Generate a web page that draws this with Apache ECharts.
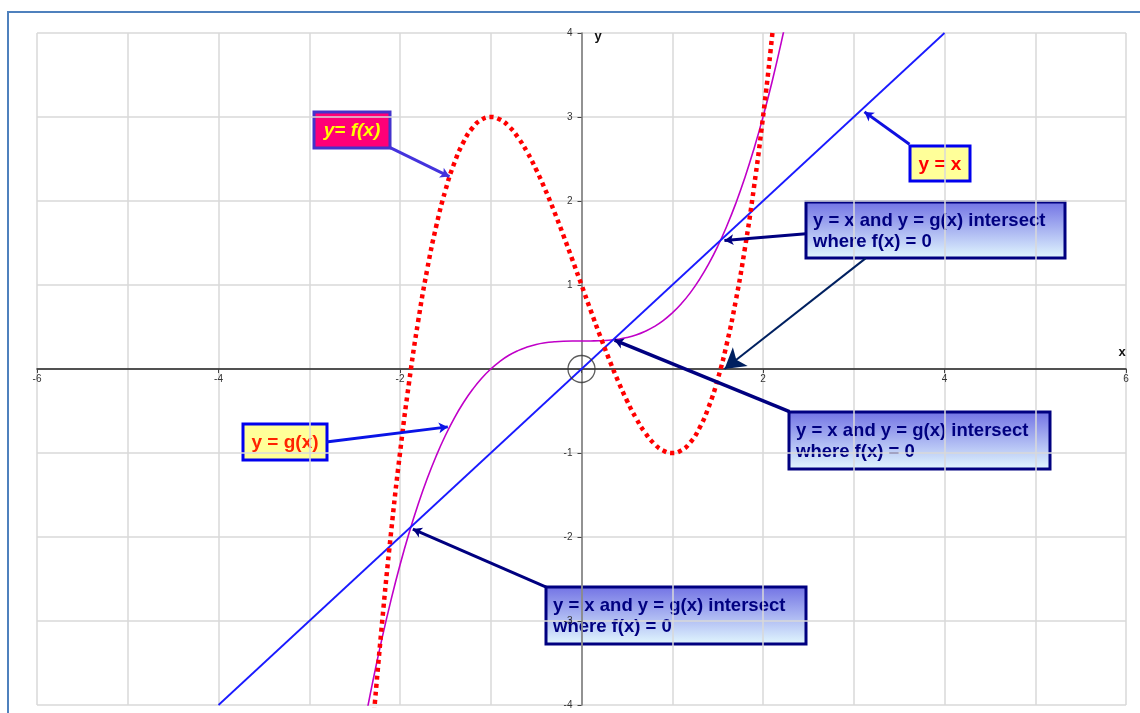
<!DOCTYPE html>
<html>
<head>
<meta charset="utf-8">
<title>y = f(x), y = g(x), y = x</title>
<script src="https://cdn.jsdelivr.net/npm/echarts@6/dist/echarts.min.js"></script>
<style>
  html, body { margin: 0; padding: 0; background: #fff; }
  #chart { width: 1140px; height: 713px; }
</style>
</head>
<body>
<div id="chart"></div>
<script>
// f(x)
const xF = [-2.3, -2.2, -2.1, -2.0, -1.9, -1.8, -1.7, -1.6, -1.5, -1.4, -1.3, -1.2, -1.1, -1.0,
  -0.9, -0.8, -0.7, -0.6, -0.5, -0.4, -0.3, -0.2, -0.1, 0, 0.1, 0.2, 0.3, 0.4, 0.5, 0.6, 0.7,
  0.8, 0.9, 1.0, 1.1, 1.2, 1.3, 1.4, 1.5, 1.6, 1.7, 1.8, 1.9, 2.0, 2.1, 2.2];
const yF = [-4.267, -3.048, -1.961, -1, -0.159, 0.568, 1.187, 1.704, 2.125, 2.456, 2.703, 2.872, 2.969, 3,
  2.971, 2.888, 2.757, 2.584, 2.375, 2.136, 1.873, 1.592, 1.299, 1, 0.701, 0.408, 0.127, -0.136, -0.375, -0.584, -0.757,
  -0.888, -0.971, -1, -0.969, -0.872, -0.703, -0.456, -0.125, 0.296, 0.813, 1.432, 2.159, 3, 3.961, 5.048];

// g(x)
const xG = [-2.4, -2.3, -2.2, -2.1, -2.0, -1.9, -1.8, -1.7, -1.6, -1.5, -1.4, -1.3, -1.2, -1.1, -1.0,
  -0.9, -0.8, -0.7, -0.6, -0.5, -0.4, -0.3, -0.2, -0.1, 0, 0.1, 0.2, 0.3, 0.4, 0.5, 0.6, 0.7, 0.8, 0.9,
  1.0, 1.1, 1.2, 1.3, 1.4, 1.5, 1.6, 1.7, 1.8, 1.9, 2.0, 2.1, 2.2, 2.3];
const yG = [-4.275, -3.722, -3.216, -2.754, -2.333, -1.953, -1.611, -1.304, -1.032, -0.792, -0.581, -0.399, -0.243, -0.110, 0,
  0.090, 0.163, 0.219, 0.261, 0.292, 0.312, 0.324, 0.331, 0.333, 0.333, 0.334, 0.336, 0.342, 0.355, 0.375, 0.405, 0.448, 0.504, 0.576,
  0.667, 0.777, 0.909, 1.066, 1.248, 1.458, 1.699, 1.971, 2.277, 2.620, 3, 3.420, 3.883, 4.389];

// y = x
const xLine = [-4, 4];
const yLine = [-4, 4];

// origin marker
const originPoint = [0, 0];

// tick labels
const xLabelValues = [-6, -4, -2, 2, 4, 6];
const yLabelValues = [-4, -3, -2, -1, 1, 2, 3, 4];

const zip = (xs, ys) => xs.map((x, i) => [x, ys[i]]);

// callout arrows, in data coordinates: [from, to]
const arrows = [
  { from: [-2.108, 2.636], to: [-1.455, 2.291], color: '#4433dd', width: 3, head: 9 },   // y= f(x)
  { from: [3.614, 2.676], to: [3.118, 3.061], color: '#1010e0', width: 3, head: 9 },     // y = x
  { from: [-2.813, -0.868], to: [-1.473, -0.689], color: '#0a14e6', width: 3, head: 9 }, // y = g(x)
  { from: [2.474, 1.61], to: [1.575, 1.53], color: '#000080', width: 3, head: 9 },
  { from: [3.13, 1.317], to: [1.576, 0.0], color: '#002060', width: 2, head: 20 },
  { from: [2.292, -0.507], to: [0.364, 0.343], color: '#000080', width: 3.5, head: 9 },
  { from: [-0.389, -2.596], to: [-1.859, -1.905], color: '#000080', width: 3, head: 9 },
];

const W = 1140;
const H = 713;
const gridBox = { left: 37, right: 14, top: 33, bottom: 8 };

const myChart = echarts.init(document.getElementById('chart'));

const gridLine = { lineStyle: { color: '#d9d9d9', width: 1.5 } };
const font = '"Liberation Sans", Arial, sans-serif';

// yellow / pink label box
function plainBox(x, y, w, h, text, fill, stroke, color, italic) {
  return {
    type: 'group',
    z: 100,
    children: [
      {
        type: 'rect',
        shape: { x: x, y: y, width: w, height: h },
        style: { fill: fill, stroke: stroke, lineWidth: 3 },
      },
      {
        type: 'text',
        style: {
          text: text,
          x: x + w / 2,
          y: y + h / 2 + 1,
          align: 'center',
          verticalAlign: 'middle',
          fill: color,
          font: (italic ? 'italic ' : '') + 'bold 19px ' + font,
        },
      },
    ],
  };
}

// blue gradient box
function blueBox(x, y, w, h) {
  return {
    type: 'group',
    z: 100,
    children: [
      {
        type: 'rect',
        shape: { x: x, y: y, width: w, height: h },
        style: {
          fill: new echarts.graphic.LinearGradient(0, 0, 0, 1, [
            { offset: 0, color: '#7070e4' },
            { offset: 1, color: '#e4faff' },
          ]),
          stroke: '#000080',
          lineWidth: 3,
        },
      },
      {
        type: 'text',
        style: {
          text: 'y = x and y = g(x) intersect\nwhere f(x) = 0',
          x: x + 7,
          y: y + h / 2 + 1,
          align: 'left',
          verticalAlign: 'middle',
          lineHeight: 21,
          fill: '#000080',
          font: 'bold 18.5px ' + font,
        },
      },
    ],
  };
}

// axes sit on the zero lines: shift them half the grid inwards
const plotW = W - gridBox.left - gridBox.right;
const plotH = H - gridBox.top - gridBox.bottom;

const option = {
  backgroundColor: '#fff',
  animation: false,
  grid: {
    left: gridBox.left,
    right: gridBox.right,
    top: gridBox.top,
    bottom: gridBox.bottom,
    containLabel: false,
    outerBoundsMode: 'none',
  },
  xAxis: {
    type: 'value',
    min: -6,
    max: 6,
    interval: 2,
    offset: -plotH / 2,
    axisLine: { onZero: false, lineStyle: { color: '#222', width: 1.5 } },
    axisTick: { show: true, length: 4, lineStyle: { color: '#444' } },
    axisLabel: {
      formatter: (v) => (xLabelValues.includes(v) ? String(v) : ''),
      fontSize: 10,
      color: '#333',
      fontFamily: font,
      margin: 5,
    },
    splitLine: gridLine,
    minorTick: { show: false, splitNumber: 2 },
    minorSplitLine: { show: true, lineStyle: { color: '#d9d9d9', width: 1.5 } },
  },
  yAxis: {
    type: 'value',
    min: -4,
    max: 4,
    interval: 1,
    offset: -plotW / 2,
    axisLine: { onZero: false, lineStyle: { color: '#777', width: 1.5 } },
    axisTick: { show: true, length: 4, lineStyle: { color: '#444' } },
    axisLabel: {
      formatter: (v) => (yLabelValues.includes(v) ? String(v) : ''),
      fontSize: 10,
      color: '#333',
      fontFamily: font,
      margin: 9,
    },
    splitLine: gridLine,
  },
  series: [
    {
      name: 'g(x)',
      type: 'line',
      data: zip(xG, yG),
      smooth: true,
      showSymbol: false,
      lineStyle: { color: '#c000c8', width: 1.6 },
      z: 2,
    },
    {
      name: 'y = x',
      type: 'line',
      data: zip(xLine, yLine),
      showSymbol: false,
      lineStyle: { color: '#1a1aff', width: 1.8 },
      z: 3,
    },
    {
      name: 'f(x)',
      type: 'line',
      data: zip(xF, yF),
      smooth: true,
      showSymbol: false,
      lineStyle: { color: '#ff0000', width: 4.5, type: [4, 4], cap: 'butt' },
      z: 4,
    },
    {
      name: 'origin',
      type: 'scatter',
      data: [originPoint],
      symbol: 'circle',
      symbolSize: 27,
      itemStyle: { color: 'rgba(0,0,0,0)', borderColor: '#333', borderWidth: 1.3 },
      z: 5,
    },
    {
      name: 'arrows',
      type: 'line',
      data: [],
      z: 6,
      markLine: {
        silent: true,
        animation: false,
        label: { show: false },
        symbol: ['none', 'arrow'],
        data: arrows.map((a) => [
          { coord: a.from, symbol: 'none', lineStyle: { color: a.color, width: a.width, type: 'solid' } },
          { coord: a.to, symbol: 'arrow', symbolSize: [a.head * 0.9, a.head] },
        ]),
      },
    },
  ],
  graphic: [
    {
      type: 'rect',
      z: 0,
      shape: { x: 8, y: 12, width: 1160, height: 740 },
      style: { fill: 'none', stroke: '#4f81bd', lineWidth: 2 },
    },
    {
      type: 'text',
      z: 100,
      style: { text: 'x', x: 1122, y: 352, align: 'center', verticalAlign: 'middle', fill: '#111', font: 'bold 13px ' + font },
    },
    {
      type: 'text',
      z: 100,
      style: { text: 'y', x: 598, y: 36, align: 'center', verticalAlign: 'middle', fill: '#111', font: 'bold 13px ' + font },
    },
    plainBox(314, 112, 76, 36, 'y= f(x)', '#ff0077', '#4433cc', '#ffff00', true),
    plainBox(910, 146, 60, 35, 'y = x', '#ffff99', '#0000ee', '#ff0000', false),
    plainBox(243, 424, 84, 36, 'y = g(x)', '#ffff99', '#0000ee', '#ff2200', false),
    blueBox(806, 202, 259, 56),
    blueBox(789, 412, 261, 57),
    blueBox(546, 587, 260, 57),
  ],
};

myChart.setOption(option);
window.addEventListener('resize', myChart.resize);
</script>
</body>
</html>
